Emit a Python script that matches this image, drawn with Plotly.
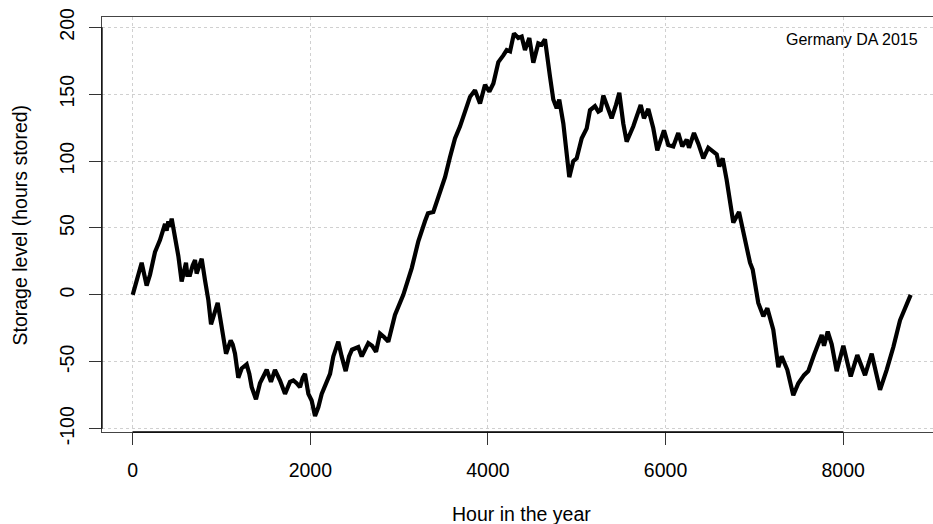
import plotly.graph_objects as go

# Cumulative storage level over the year (hour, hours stored)
hour = [
    0, 101, 157, 195, 251, 307, 364, 382, 401, 420, 439, 514, 551, 578, 600,
    615, 645, 675, 702, 720, 758, 777, 814, 852, 882, 927, 957, 1002, 1051,
    1103, 1126, 1152, 1189, 1227, 1283, 1313, 1340, 1388, 1433, 1471, 1509,
    1557, 1602, 1659, 1715, 1771, 1809, 1846, 1884, 1914, 1940, 1978, 2015,
    2053, 2090, 2128, 2184, 2222, 2259, 2315, 2353, 2398, 2436, 2469, 2540,
    2579, 2653, 2695, 2740, 2785, 2830, 2878, 2953, 3047, 3142, 3216, 3291,
    3325, 3385, 3460, 3517, 3573, 3629, 3686, 3742, 3798, 3854, 3911, 3967,
    4016, 4061, 4117, 4173, 4211, 4249, 4293, 4342, 4380, 4417, 4466, 4511,
    4567, 4605, 4642, 4699, 4736, 4774, 4803, 4849, 4916, 4961, 4999, 5056,
    5112, 5149, 5205, 5243, 5270, 5299, 5344, 5393, 5442, 5479, 5524, 5562,
    5637, 5720, 5757, 5806, 5862, 5907, 5982, 6031, 6087, 6143, 6188, 6238,
    6264, 6320, 6369, 6425, 6481, 6538, 6576, 6605, 6643, 6688, 6707, 6763,
    6827, 6895, 6951, 6981, 7044, 7101, 7146, 7213, 7270, 7307, 7371, 7438,
    7495, 7559, 7607, 7671, 7758, 7784, 7826, 7871, 7927, 8002, 8085, 8159,
    8220, 8246, 8321, 8358, 8415, 8490, 8565, 8640, 8696, 8760,
]
level = [
    0, 24, 7, 15, 32, 41, 53, 48, 55, 51, 57, 29, 10, 19, 24,
    15, 15, 22, 26, 16, 22, 27, 11, -4, -22, -11, -6, -24, -44,
    -34, -37, -44, -62, -55, -52, -59, -69, -78, -66, -61, -56,
    -65, -56, -64, -74, -65, -64, -66, -69, -62, -59, -74, -79,
    -90.5, -84, -74, -64, -59, -46, -35, -46, -57, -46, -41, -39,
    -46, -36, -38, -42.5, -29, -31.5, -35, -15, 0, 20, 40, 55,
    61, 62, 76, 88, 103, 117, 126, 136, 148, 153, 143, 157,
    152, 158, 174, 179, 183, 182, 195.5, 192, 193, 183, 192, 173.5,
    188, 187, 191, 163, 146, 139.5, 146, 128, 88, 100, 102, 117,
    124.5, 138, 141, 137, 138, 149, 141, 132, 142, 151, 128, 114.5,
    126, 142, 132, 139, 124.5, 108, 123, 112, 111, 121, 111, 116,
    110, 121, 113, 102, 110, 107, 105, 96, 102, 86, 78, 54,
    62, 39, 24, 19, -6, -16, -10, -26, -54, -46, -56, -75,
    -66, -60, -57, -45, -30, -38, -27.5, -37, -57, -38, -61, -45,
    -56, -60, -44, -54, -71, -56, -39, -19, -10, 0,
]

x_ticks = [0, 2000, 4000, 6000, 8000]
y_ticks = [-100, -50, 0, 50, 100, 150, 200]
x_label = "Hour in the year"
y_label = "Storage level (hours stored)"
panel_label = "Germany DA 2015"

FONT = "Liberation Sans, Arial, Helvetica, sans-serif"
FS = 19.5
W, H = 933, 524
ML, MT, MB = 102, 17, 92
x_range = [-345.7, 9011.4]
y_range = [-102.5, 207.7]

fig = go.Figure()
fig.add_trace(go.Scatter(
    x=hour, y=level, mode="lines",
    line=dict(color="black", width=4.2),
    hoverinfo="skip",
))

axis_common = dict(
    ticks="outside", ticklen=12, tickwidth=1.2, tickcolor="#333",
    showline=True, linecolor="#444", linewidth=1.3,
    showgrid=True, gridcolor="#d0d0d0", gridwidth=1, griddash="dot",
    zeroline=False, tickfont=dict(family=FONT, size=FS, color="black"),
)

fig.update_xaxes(range=x_range, tickvals=x_ticks,
                 ticktext=[str(v) for v in x_ticks], mirror=True,
                 ticklabelstandoff=8, **axis_common)
fig.update_yaxes(range=y_range, tickvals=y_ticks,
                 ticktext=[str(v) for v in y_ticks], tickangle=-90,
                 ticklabelstandoff=7, **axis_common)

# darker axis segments spanning first to last tick
fig.add_shape(type="line", xref="x", yref="paper", x0=x_ticks[0], x1=x_ticks[-1],
              y0=0, y1=0, line=dict(color="black", width=1.3))
fig.add_shape(type="line", xref="paper", yref="y", x0=0, x1=0,
              y0=y_ticks[0], y1=y_ticks[-1], line=dict(color="black", width=1.3))

pw = W - ML
ph = H - MT - MB

def px_x(px):
    return (px - ML) / pw

def px_y(py):
    return (H - MB - py) / ph

fig.add_annotation(text=x_label, xref="x", yref="paper",
                   x=(x_range[0] + 9110) / 2, y=px_y(514), showarrow=False,
                   xanchor="center", yanchor="middle",
                   font=dict(family=FONT, size=FS, color="black"))
fig.add_annotation(text=y_label, xref="paper", yref="paper",
                   x=px_x(19.5), y=px_y(225), showarrow=False, textangle=-90,
                   xanchor="center", yanchor="middle",
                   font=dict(family=FONT, size=FS, color="black"))
fig.add_annotation(text=panel_label, xref="paper", yref="paper",
                   x=px_x(920), y=px_y(39.5), showarrow=False,
                   xanchor="right", yanchor="middle",
                   font=dict(family=FONT, size=16, color="black"))

fig.update_layout(
    width=W, height=H,
    margin=dict(l=ML, r=0, t=MT, b=MB, pad=0),
    plot_bgcolor="white", paper_bgcolor="white",
    showlegend=False,
)

fig.write_html("out.html")
